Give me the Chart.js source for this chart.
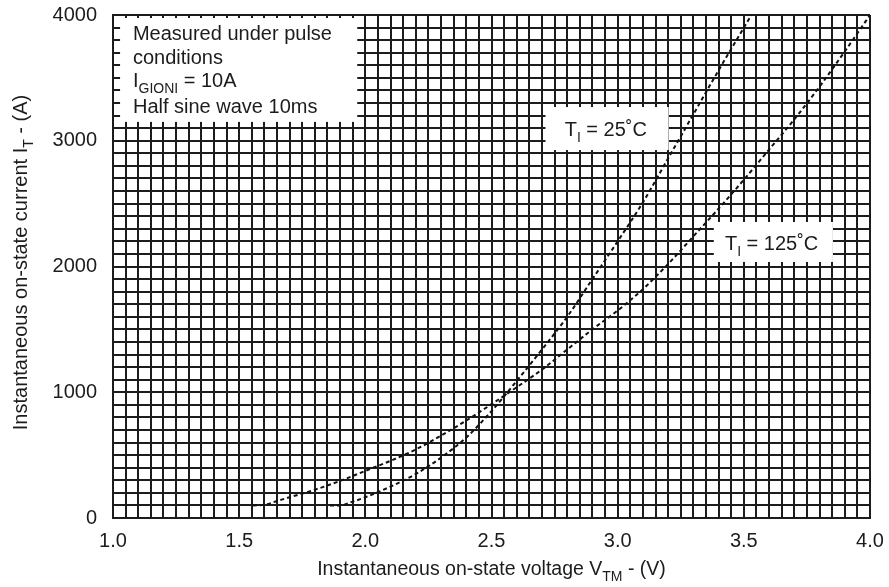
<!DOCTYPE html>
<html>
<head>
<meta charset="utf-8">
<script src="https://cdn.jsdelivr.net/npm/chart.js@4.4.0/dist/chart.umd.min.js"></script>
<style>
  html, body { margin: 0; padding: 0; background: #fff; }
</style>
</head>
<body>
<canvas id="chart" width="889" height="587"></canvas>
<script>
// on-state characteristic, Tj = 25 C
const voltage25 = [1.86, 1.90, 1.95, 2.00, 2.10, 2.20, 2.30, 2.40, 2.50, 2.60, 2.70, 2.80, 2.90, 3.00, 3.10, 3.20, 3.30, 3.40, 3.53];
const current25 = [100, 100, 130, 165, 250, 350, 480, 640, 850, 1090, 1340, 1600, 1900, 2200, 2510, 2860, 3210, 3560, 4000];

// on-state characteristic, Tj = 125 C
const voltage125 = [1.555, 1.60, 1.65, 1.70, 1.80, 1.90, 2.00, 2.10, 2.20, 2.30, 2.40, 2.50, 2.60, 2.70, 2.80, 2.90, 3.00, 3.10, 3.20, 3.30, 3.40, 3.50, 3.60, 3.70, 3.80, 3.90, 4.00];
const current125 = [100, 105, 135, 165, 225, 295, 375, 455, 545, 655, 775, 905, 1040, 1180, 1340, 1500, 1650, 1820, 2020, 2240, 2460, 2690, 2930, 3170, 3430, 3710, 4000];

// labelled ticks (grid runs every 0.05 V / 100 A)
const xTickLabels = [1.0, 1.5, 2.0, 2.5, 3.0, 3.5, 4.0];
const yTickLabels = [0, 1000, 2000, 3000, 4000];

// text pieces: even index = normal, odd index = subscript
const xTitle = ['Instantaneous on-state voltage V', 'TM', ' - (V)'];
const yTitle = ['Instantaneous on-state current I', 'T', ' - (A)'];
const noteLines = [
  ['Measured under pulse'],
  ['conditions'],
  ['I', 'GIONI', ' = 10A'],
  ['Half sine wave 10ms']
];
const label25 = ['T', 'I', ' = 25˚C'];
const label125 = ['T', 'I', ' = 125˚C'];

const FONT = '"Liberation Sans", Arial, Helvetica, sans-serif';
const INK = '#1c1c1c';

function toPoints(xs, ys) {
  return xs.map((v, i) => ({ x: v, y: ys[i] }));
}

function drawParts(ctx, parts, x, y, size, align) {
  const subSize = Math.round(size * 0.72);
  const widths = parts.map((t, i) => {
    ctx.font = (i % 2 ? subSize : size) + 'px ' + FONT;
    return ctx.measureText(t).width;
  });
  const total = widths.reduce((a, b) => a + b, 0);
  let cx = align === 'center' ? x - total / 2 : x;
  parts.forEach((t, i) => {
    ctx.font = (i % 2 ? subSize : size) + 'px ' + FONT;
    ctx.fillText(t, cx, y + (i % 2 ? size * 0.3 : 0));
    cx += widths[i];
  });
}

const notes = {
  id: 'notes',
  beforeDatasetsDraw(chart) {
    const { ctx, scales: { x, y } } = chart;
    const box = (v0, v1, i0, i1) => {
      const px0 = x.getPixelForValue(v0), px1 = x.getPixelForValue(v1);
      const py0 = y.getPixelForValue(i1), py1 = y.getPixelForValue(i0);
      ctx.fillRect(px0, py0, px1 - px0, py1 - py0);
    };
    ctx.save();
    ctx.fillStyle = '#fff';
    box(1.028, 1.968, 3150, 3976);
    box(2.714, 3.202, 2926, 3268);
    box(3.381, 3.853, 2036, 2354);

    ctx.fillStyle = INK;
    ctx.textAlign = 'left';
    ctx.textBaseline = 'alphabetic';
    const lx = x.getPixelForValue(1.079);
    const baselines = [40, 64, 87, 113];
    noteLines.forEach((line, i) => drawParts(ctx, line, lx, baselines[i], 20, 'left'));
    drawParts(ctx, label25, x.getPixelForValue(2.79), 136, 20, 'left');
    drawParts(ctx, label125, x.getPixelForValue(3.425), 250, 20, 'left');
    ctx.restore();
  },
  afterDraw(chart) {
    const { ctx, chartArea } = chart;
    ctx.save();
    ctx.fillStyle = INK;
    ctx.textBaseline = 'alphabetic';
    drawParts(ctx, xTitle, (chartArea.left + chartArea.right) / 2, 575, 19.5, 'center');
    ctx.translate(27, (chartArea.top + chartArea.bottom) / 2 - 4);
    ctx.rotate(-Math.PI / 2);
    drawParts(ctx, yTitle, 0, 0, 20, 'center');
    ctx.restore();
  }
};

const isLabelled = (list, v) => list.some(t => Math.abs(t - v) < 1e-6);

new Chart(document.getElementById('chart').getContext('2d'), {
  type: 'scatter',
  data: {
    datasets: [
      {
        label: 'Tj = 25 C',
        data: toPoints(voltage25, current25),
        showLine: true,
        cubicInterpolationMode: 'monotone',
        borderColor: '#111',
        borderWidth: 2,
        borderDash: [4, 3],
        pointRadius: 0
      },
      {
        label: 'Tj = 125 C',
        data: toPoints(voltage125, current125),
        showLine: true,
        cubicInterpolationMode: 'monotone',
        borderColor: '#111',
        borderWidth: 2,
        borderDash: [4, 3],
        pointRadius: 0
      }
    ]
  },
  options: {
    responsive: false,
    animation: false,
    layout: { padding: { top: 15, right: 19, left: 0, bottom: 0 } },
    plugins: {
      legend: { display: false },
      tooltip: { enabled: false }
    },
    scales: {
      x: {
        type: 'linear',
        min: 1,
        max: 4,
        afterFit: s => { s.height = 69; s.paddingLeft = 0; s.paddingRight = 0; },
        grid: { color: INK, lineWidth: 2, drawTicks: false },
        border: { color: INK, width: 2 },
        ticks: {
          stepSize: 0.05,
          autoSkip: false,
          maxRotation: 0,
          padding: 11,
          color: INK,
          font: { family: FONT, size: 20 },
          callback: v => isLabelled(xTickLabels, v) ? v.toFixed(1) : ''
        }
      },
      y: {
        type: 'linear',
        min: 0,
        max: 4000,
        afterFit: s => { s.width = 113; s.paddingTop = 0; s.paddingBottom = 0; },
        grid: { color: INK, lineWidth: 2, drawTicks: false },
        border: { color: INK, width: 2 },
        ticks: {
          stepSize: 100,
          autoSkip: false,
          padding: 16,
          color: INK,
          font: { family: FONT, size: 20 },
          callback: v => isLabelled(yTickLabels, v) ? String(v) : ''
        }
      }
    }
  },
  plugins: [notes]
});
</script>
</body>
</html>
